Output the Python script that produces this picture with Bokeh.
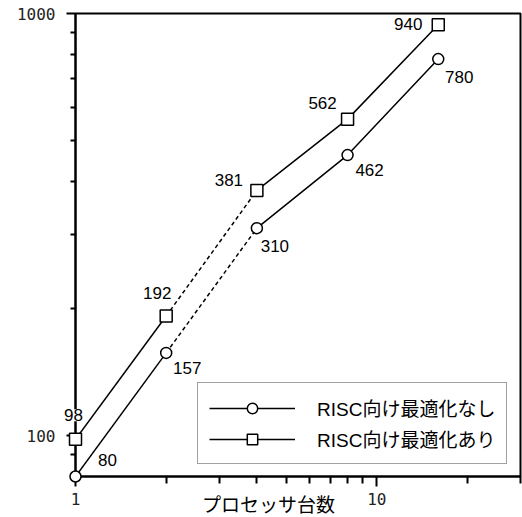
from bokeh.plotting import figure
from bokeh.models import Range1d, FixedTicker, Legend, LegendItem, PrintfTickFormatter
from bokeh.core.properties import value
from bokeh.embed import file_html
from bokeh.resources import INLINE

# ---- data ----
processors = [1, 2, 4, 8, 16]
perf_plain = [80, 157, 310, 462, 780]   # RISC向け最適化なし
perf_opt = [98, 192, 381, 562, 940]     # RISC向け最適化あり
series_names = ["RISC向け最適化なし", "RISC向け最適化あり"]
x_title = "プロセッサ台数"
x_major_ticks = [1, 10]
x_minor_ticks = [2, 3, 4, 5, 6, 7, 8, 9, 20, 30]
y_major_ticks = [100, 1000]
y_minor_ticks = [90, 200, 300, 400, 500, 600, 700, 800, 900]
x_lim = (1, 30)
y_lim = (80, 1000)

# ---- label placement (pixels) ----
opt_dx = [-2, -9, -28, -25, -30]
opt_dy = [-24, -23, -10, -16, -1]
plain_dx = [32, 21, 18, 22, 21]
plain_dy = [-17, 15, 18, 15, 18]

p = figure(width=522, height=517, x_axis_type="log", y_axis_type="log",
           x_range=Range1d(*x_lim), y_range=Range1d(*y_lim),
           output_backend="svg", toolbar_location=None,
           min_border_left=75, min_border_right=2, min_border_top=13, min_border_bottom=41)
p.grid.visible = False
p.outline_line_color = "black"
p.outline_line_width = 2
p.background_fill_color = "white"
p.border_fill_color = "white"

p.xaxis.ticker = FixedTicker(ticks=x_major_ticks, minor_ticks=x_minor_ticks)
p.yaxis.ticker = FixedTicker(ticks=y_major_ticks, minor_ticks=y_minor_ticks)
for ax in (p.xaxis, p.yaxis):
    ax.formatter = PrintfTickFormatter(format="%d")
    ax.axis_line_width = 2
    ax.major_tick_line_width = 2
    ax.minor_tick_line_width = 2
    ax.major_tick_in = 0
    ax.minor_tick_in = 0
    ax.major_label_text_font = "DejaVu Sans Mono"
    ax.major_label_text_font_size = "16px"
    ax.major_label_text_color = "#222222"
p.xaxis.major_tick_out = 10
p.xaxis.minor_tick_out = 7
p.xaxis.major_label_standoff = 6
p.yaxis.major_tick_out = 9
p.yaxis.minor_tick_out = 5
p.yaxis.major_label_standoff = 11

lw = 1.5
# solid and dashed segments
r_plain_a = p.line(processors[0:2], perf_plain[0:2], line_color="black", line_width=lw)
p.line(processors[1:3], perf_plain[1:3], line_color="black", line_width=lw, line_dash="4 3")
p.line(processors[2:], perf_plain[2:], line_color="black", line_width=lw)
r_opt_a = p.line(processors[0:2], perf_opt[0:2], line_color="black", line_width=lw)
p.line(processors[1:3], perf_opt[1:3], line_color="black", line_width=lw, line_dash="4 3")
p.line(processors[2:], perf_opt[2:], line_color="black", line_width=lw)

m_plain = p.scatter(processors, perf_plain, marker="circle", size=11, fill_color="white",
                    line_color="black", line_width=1.5, level="overlay")
m_opt = p.scatter(processors, perf_opt, marker="square", size=12, fill_color="white",
                  line_color="black", line_width=1.5, level="overlay")

font = value("'Liberation Sans', Arial, sans-serif")
p.text(x=processors, y=perf_opt, text=[str(v) for v in perf_opt], x_offset=opt_dx, y_offset=opt_dy,
       text_align="center", text_baseline="middle", text_font=font, text_font_size="17px",
       text_color="black", background_fill_color="white", level="overlay")
p.text(x=processors, y=perf_plain, text=[str(v) for v in perf_plain], x_offset=plain_dx, y_offset=plain_dy,
       text_align="center", text_baseline="middle", text_font=font, text_font_size="17px",
       text_color="black", level="overlay")

legend = Legend(items=[LegendItem(label=series_names[0], renderers=[r_plain_a, m_plain]),
                       LegendItem(label=series_names[1], renderers=[r_opt_a, m_opt])],
                location=(122, 12), glyph_width=86, glyph_height=26, label_height=26,
                label_standoff=22, padding=11, spacing=4, margin=0,
                label_text_font="'Liberation Sans', 'Noto Sans CJK JP', sans-serif",
                label_text_font_size="19px", label_text_color="black",
                border_line_color="#444444", border_line_width=1,
                background_fill_color="white", background_fill_alpha=1)
p.add_layout(legend, "center")

# x-axis title, anchored at the axis origin and shifted below the tick row
p.text(x=[x_lim[0]], y=[y_lim[0]], text=[x_title], x_offset=193, y_offset=27,
       text_align="center", text_baseline="middle", text_font=value("Noto Sans CJK JP"),
       text_font_size="19px", text_color="black", level="overlay")

open("out.html", "w").write(file_html(p, INLINE))
